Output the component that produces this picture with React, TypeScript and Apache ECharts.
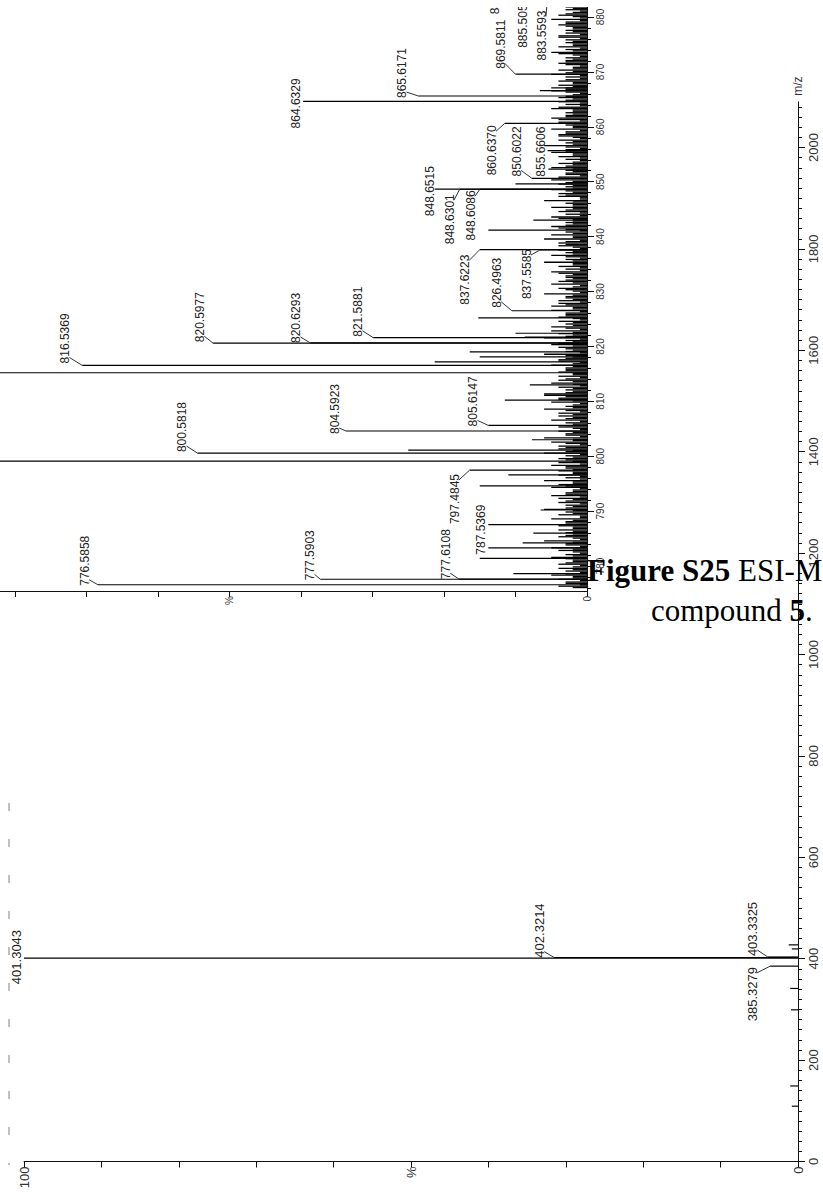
import { useEffect, useRef } from "react";
import * as echarts from "echarts";

// ---------- Zoomed window (m/z 775–890) ----------
// Labelled centroid peaks: m/z and relative intensity (%)
const zoomPeakMz = [
  776.5858, 777.5903, 777.6108, 787.5369, 797.4845, 800.5818, 804.5923, 805.6147,
  816.5369, 820.5977, 820.6293, 821.5881, 826.4963, 837.5585, 837.6223, 848.6086,
  848.6301, 848.6515, 850.6022, 855.6606, 860.637, 864.6329, 865.6171, 869.5811,
  883.5593, 885.5054, 887.6003,
];
const zoomPeakInt = [
  68.4, 37.3, 17.9, 13.8, 16.4, 54.5, 33.7, 13.8,
  70.6, 52.3, 38.7, 29.9, 10.5, 6.6, 15.0, 15.0,
  17.8, 21.3, 7.7, 5.5, 11.5, 39.7, 23.6, 10.0,
  5.5, 7.5, 11.7,
];
// Label placement relative to each peak tip, in pixels [dx, dy]
const zoomLabelShift = [
  [-13, -24], [-10, -24], [-13, -25], [-7, 5], [-15, 29], [-15, -26], [-11, -22], [-15, -24],
  [-17, -27], [-13, -26], [-14, -25], [-15, -26], [-15, -28], [-13, 24], [-15, 30], [-9, 26],
  [-10, 30], [-5, 2], [-15, -27], [-7, 1], [-13, 27], [-7, 2], [-16, -23], [-15, -30],
  [-6, 38], [-10, 36], [-8, 14],
];
// Unlabelled peaks in the zoomed window
const zoomOtherMz = [
  815.2, 799.1, 801.1, 810.2, 794.6, 796.6, 786.0, 784.2, 783.3, 781.4, 778.6, 790.2,
  803.0, 811.1, 813.0, 817.2, 818.1, 819.0, 821.7, 822.4, 825.2, 841.2, 843.0, 849.6,
  852.3, 866.6, 867.1,
];
const zoomOtherInt = [
  100, 92, 25, 11.5, 15, 11, 7.5, 9, 13.8, 15, 10.3, 6.5,
  7.7, 6, 8, 21.3, 15, 16.4, 8.7, 10, 15.2, 13.8, 7.5, 10,
  5.4, 6.6, 5,
];
// Baseline clutter: per nominal mass (from 776), four small peaks, intensity in %
const zoomNoiseFrom = 776;
const zoomNoiseOffsets = [0.08, 0.33, 0.57, 0.84];
const zoomNoiseLevels = [
  "2413 3142 2531 3242 1432 2352 3124 2513 3261 2432",
  "3242 2413 3251 1423 2632 3143 2415 3322 1534 2261",
  "3142 2423 3514 2342 3163 2434 1352 2613 3241 2432",
  "3153 2424 1362 3215 2443 1632 3241 2524 3142 2433",
  "3252 1443 2361 3234 2542 3163 2425 1352 3241 2433",
  "3152 2534 1423 3261 2342 1524 3233 2451 3142 2623",
  "1352 3241 2434 3162 2523 1345 3232 2451 3143 2522",
  "3261 1434 2352 3243 2514 1332 3253 2421 3142 2533",
  "1362 3241 2443 3152 2324 1453 3232 2541 3143 2432",
  "1353 3242 2431 3153 2422 1343 3231 2452 3142 2323",
  "1441 3232 2343 3151 2432 1323 3241 2432 3143 2321",
  "1342 3231 2413 3142",
];
const zoomTickLabels = [780, 790, 800, 810, 820, 830, 840, 850, 860, 870, 880];

// ---------- Full scan (m/z 0–2090) ----------
const fullPeakMz = [385.3279, 401.3043, 402.3214, 403.3325];
const fullPeakInt = [3.6, 100, 31.5, 3.9];
const fullLabelShift = [[-18, 28], [-7.5, -1], [-14.5, -27], [-15, -28]];
const fullOtherMz = [109.1, 149.0, 299.2, 341.3, 419.3, 427.3];
const fullOtherInt = [0.8, 1.0, 0.9, 1.0, 0.8, 1.2];
const fullTickLabels = [0, 200, 400, 600, 800, 1000, 1200, 1400, 1600, 1800, 2000];

const pctTickLabels: Record<number, string> = { 0: "0", 50: "%", 100: "100" };

// ---------- layout ----------
const OX = 150;
const OY = 100;
const W = 823 + OX;
const H = 1192 + OY;
const ZOOM_MIN = 775.45;
const ZOOM_MAX = 890;
const ZOOM_PX = 5.49;
const FULL_MAX = 2090;
const FULL_PX = 0.507;
const SANS = "Liberation Sans";
const SERIF = "Liberation Serif";
const CAPTION_SIZE = 31;

function buildNoise(): number[][] {
  const out: number[][] = [];
  let n = zoomNoiseFrom;
  zoomNoiseLevels.forEach((row) => {
    row.split(" ").forEach((group) => {
      group.split("").forEach((d, k) => {
        const v = Number(d);
        if (v > 0) out.push([n + zoomNoiseOffsets[k], v]);
      });
      n += 1;
    });
  });
  return out;
}

function stickItem(width: number) {
  return (_p: any, api: any) => {
    const mz = api.value(0);
    const v = api.value(1);
    const a = api.coord([0, mz]);
    const b = api.coord([v, mz]);
    return {
      type: "line",
      shape: { x1: a[0], y1: a[1], x2: b[0], y2: b[1] },
      style: { stroke: "#000", lineWidth: width },
    };
  };
}

function labelItem(shifts: number[][], fontSize: number) {
  return (_p: any, api: any) => {
    const mz = api.value(0);
    const v = api.value(1);
    const i = api.value(2);
    const tip = api.coord([v, mz]);
    const [dx, dy] = shifts[i];
    const cx = tip[0] + dx;
    const cy = tip[1] + dy;
    const text = mz.toFixed(4);
    const len = fontSize * (0.556 * (text.length - 1) + 0.278);
    const children: any[] = [];
    if (Math.abs(dy) > 6) {
      const ey = Math.min(Math.max(tip[1], cy - len / 2 + 6), cy + len / 2 - 6);
      children.push({
        type: "line",
        shape: { x1: tip[0], y1: tip[1], x2: cx + fontSize * 0.35, y2: ey },
        style: { stroke: "#333", lineWidth: 1 },
      });
    }
    children.push({
      type: "text",
      x: cx,
      y: cy,
      rotation: Math.PI / 2,
      style: {
        text,
        fontSize,
        fontFamily: SANS,
        fill: "#222",
        align: "center",
        verticalAlign: "middle",
      },
    });
    return { type: "group", children };
  };
}

function pctAxis(gridIndex: number, fontSize: number) {
  return {
    gridIndex,
    type: "value",
    inverse: true,
    min: 0,
    max: 100,
    interval: 10,
    axisLine: { show: true, onZero: false, lineStyle: { color: "#111", width: 1 } },
    axisTick: { show: true, length: 6, lineStyle: { color: "#111" } },
    splitLine: { show: false },
    axisLabel: {
      rotate: 90,
      margin: 5,
      fontSize,
      fontFamily: SANS,
      color: "#333",
      showMinLabel: true,
      showMaxLabel: true,
      formatter: (v: number) => pctTickLabels[v] ?? "",
    },
  };
}

export default function App() {
  const ref = useRef<HTMLDivElement>(null);

  useEffect(() => {
    if (!ref.current) return;
    const chart = echarts.init(ref.current, undefined, { renderer: "svg" });

    const zoomMinor: number[] = [];
    for (let m = 776; m <= 888; m += 2) if (m % 10 !== 0) zoomMinor.push(m);
    const fullMinor: number[] = [];
    for (let m = 20; m <= 2080; m += 20) if (m % 200 !== 0) fullMinor.push(m);

    const zoomNoise = buildNoise();
    const zoomMain = [
      ...zoomOtherMz.map((m, i) => [m, zoomOtherInt[i]]),
      ...zoomPeakMz.map((m, i) => [m, zoomPeakInt[i]]),
    ];
    const fullSticks = [
      ...fullOtherMz.map((m, i) => [m, fullOtherInt[i]]),
      ...fullPeakMz.map((m, i) => [m, fullPeakInt[i]]),
    ];

    const zoomHeight = (ZOOM_MAX - ZOOM_MIN) * ZOOM_PX;
    const fullHeight = FULL_MAX * FULL_PX;
    const plain = (v: number) => String(v);

    chart.setOption({
      animation: false,
      backgroundColor: "#ffffff",
      grid: [
        { left: OX - 128, width: 715, top: OY + 591 - zoomHeight, height: zoomHeight },
        { left: OX + 24, width: 774, top: OY + 1161.5 - fullHeight, height: fullHeight },
      ],
      xAxis: [pctAxis(0, 10), pctAxis(1, 13)],
      yAxis: [
        {
          gridIndex: 0,
          type: "value",
          position: "right",
          min: ZOOM_MIN,
          max: ZOOM_MAX,
          axisLine: { show: true, onZero: false, lineStyle: { color: "#111" } },
          axisTick: { show: true, length: 7, customValues: zoomTickLabels, lineStyle: { color: "#111" } },
          axisLabel: {
            customValues: zoomTickLabels,
            formatter: plain,
            rotate: 90,
            margin: 8,
            fontSize: 10,
            fontFamily: SANS,
            color: "#333",
          },
          splitLine: { show: false },
        },
        {
          gridIndex: 0,
          type: "value",
          position: "right",
          min: ZOOM_MIN,
          max: ZOOM_MAX,
          axisLine: { show: false, onZero: false },
          axisTick: { show: true, length: 4, customValues: zoomMinor, lineStyle: { color: "#111" } },
          axisLabel: { show: false },
          splitLine: { show: false },
        },
        {
          gridIndex: 1,
          type: "value",
          position: "right",
          min: 0,
          max: FULL_MAX,
          name: "m/z",
          nameLocation: "end",
          nameRotate: 90,
          nameGap: 6,
          nameTextStyle: { fontSize: 12, fontFamily: SANS, color: "#333" },
          axisLine: { show: true, onZero: false, lineStyle: { color: "#111" } },
          axisTick: { show: true, length: 7, customValues: fullTickLabels, lineStyle: { color: "#111" } },
          axisLabel: {
            customValues: fullTickLabels,
            formatter: plain,
            rotate: 90,
            margin: 9,
            fontSize: 13,
            fontFamily: SANS,
            color: "#333",
          },
          splitLine: { show: false },
        },
        {
          gridIndex: 1,
          type: "value",
          position: "right",
          min: 0,
          max: FULL_MAX,
          axisLine: { show: false, onZero: false },
          axisTick: { show: true, length: 4, customValues: fullMinor, lineStyle: { color: "#111" } },
          axisLabel: { show: false },
          splitLine: { show: false },
        },
      ],
      series: [
        {
          type: "custom",
          xAxisIndex: 0,
          yAxisIndex: 0,
          encode: { x: 1, y: 0 },
          renderItem: stickItem(1.3),
          data: zoomNoise,
          silent: true,
        },
        {
          type: "custom",
          xAxisIndex: 0,
          yAxisIndex: 0,
          encode: { x: 1, y: 0 },
          renderItem: stickItem(1.2),
          data: zoomMain,
          silent: true,
        },
        {
          type: "custom",
          xAxisIndex: 0,
          yAxisIndex: 0,
          encode: { x: 1, y: 0 },
          renderItem: labelItem(zoomLabelShift, 12),
          data: zoomPeakMz.map((m, i) => [m, zoomPeakInt[i], i]),
          silent: true,
        },
        {
          type: "custom",
          xAxisIndex: 1,
          yAxisIndex: 2,
          encode: { x: 1, y: 0 },
          renderItem: stickItem(1.2),
          data: fullSticks,
          silent: true,
        },
        {
          type: "custom",
          xAxisIndex: 1,
          yAxisIndex: 2,
          encode: { x: 1, y: 0 },
          renderItem: labelItem(fullLabelShift, 13),
          data: fullPeakMz.map((m, i) => [m, fullPeakInt[i], i]),
          silent: true,
        },
      ],
      graphic: [
        // the zoomed panel is cropped a few pixels below the page top
        {
          type: "rect",
          silent: true,
          z: 100,
          shape: { x: OX, y: 0, width: 620, height: OY + 7 },
          style: { fill: "#ffffff" },
        },
        {
          type: "line",
          silent: true,
          shape: { x1: OX + 9, y1: OY + 803, x2: OX + 9, y2: OY + 1165 },
          style: { stroke: "#aaa", lineWidth: 1.5, lineDash: [8, 28] },
        },
        {
          type: "text",
          silent: true,
          z: 101,
          x: OX + 587,
          y: OY + 570,
          style: {
            text: "{b|Figure S25} ESI-MS",
            fontSize: CAPTION_SIZE,
            fontFamily: SERIF,
            fill: "#000",
            verticalAlign: "middle",
            rich: { b: { fontSize: CAPTION_SIZE, fontFamily: SERIF, fontWeight: "bold", fill: "#000" } },
          },
        },
        {
          type: "text",
          silent: true,
          z: 101,
          x: OX + 651,
          y: OY + 610,
          style: {
            text: "compound {b|5}.",
            fontSize: CAPTION_SIZE,
            fontFamily: SERIF,
            fill: "#000",
            verticalAlign: "middle",
            rich: { b: { fontSize: CAPTION_SIZE, fontFamily: SERIF, fontWeight: "bold", fill: "#000" } },
          },
        },
      ],
    });

    return () => chart.dispose();
  }, []);

  return (
    <div
      ref={ref}
      style={{ position: "absolute", left: -OX, top: -OY, width: W, height: H }}
    />
  );
}
